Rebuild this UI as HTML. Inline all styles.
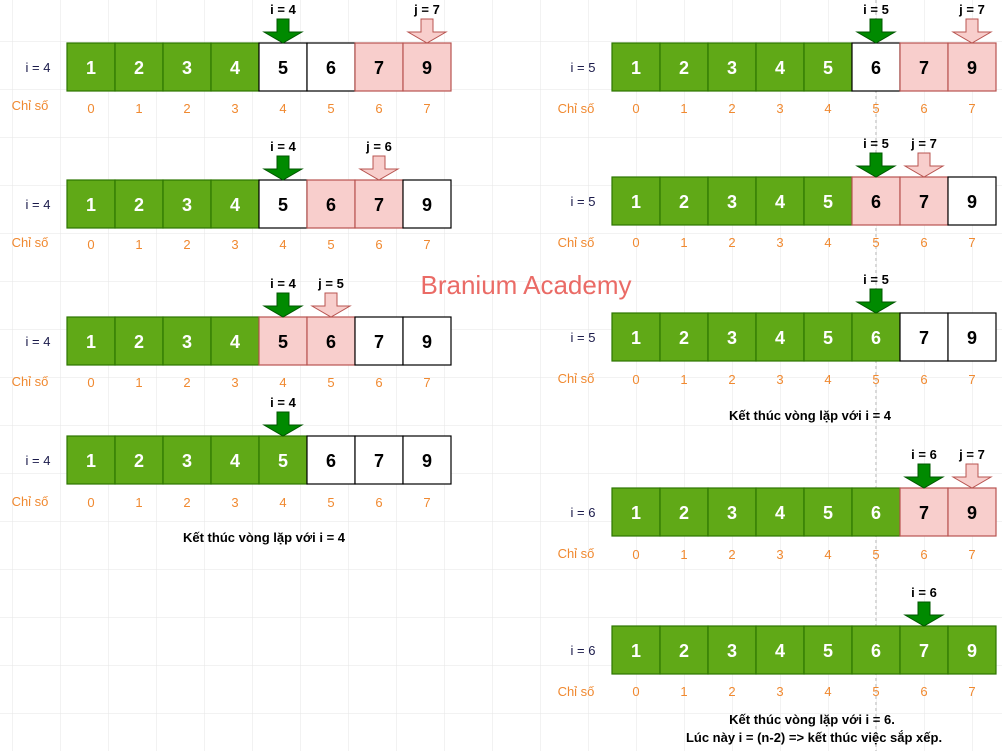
<!DOCTYPE html>
<html><head><meta charset="utf-8"><style>
body{margin:0;background:#fff}
svg{display:block;font-family:"Liberation Sans",Arial,sans-serif}
.c{font-weight:bold;font-size:18px;text-anchor:middle}
.w{fill:#fff}.k{fill:#000}
.ix{fill:#f08930;font-size:13px;text-anchor:middle}
.rl{fill:#1a1a4a;font-size:13px;text-anchor:middle}
.al{font-weight:bold;font-size:13px;text-anchor:middle;fill:#000}
.cap{font-weight:bold;font-size:13px;text-anchor:middle;fill:#000}
</style></head><body>
<svg width="1002" height="751" viewBox="0 0 1002 751" xmlns="http://www.w3.org/2000/svg">
<defs>
<pattern id="grid" x="12" y="41" width="48" height="48" patternUnits="userSpaceOnUse">
<path d="M0 0H48M0 0V48" fill="none" stroke="#e6e6e6" stroke-width="1"/>
</pattern>
<polygon id="ga" points="-6,-24 6,-24 6,-11 19,-11 0,0 -19,-11 -6,-11" fill="#008a00" stroke="#005700" stroke-width="1"/>
<polygon id="pa" points="-6,-24 6,-24 6,-11 19,-11 0,0 -19,-11 -6,-11" fill="#f8cecc" stroke="#b85450" stroke-width="1"/>
<g id="gc"><rect width="48" height="48" fill="#60a917" stroke="#2d7600" stroke-width="1.2"/></g>
<g id="wc"><rect width="48" height="48" fill="#fff" stroke="#000" stroke-width="1.2"/></g>
<g id="pc"><rect width="48" height="48" fill="#f8cecc" stroke="#b85450" stroke-width="1.2"/></g>
</defs>
<rect width="1002" height="751" fill="url(#grid)"/>
<line x1="876" y1="0" x2="876" y2="751" stroke="#b3b3b3" stroke-dasharray="3,3"/>

<!-- L1 -->
<g transform="translate(67,43)">
<use href="#gc" x="0"/><use href="#gc" x="48"/><use href="#gc" x="96"/><use href="#gc" x="144"/><use href="#wc" x="192"/><use href="#wc" x="240"/><use href="#pc" x="288"/><use href="#pc" x="336"/>
<text class="c w" x="24" y="31">1</text><text class="c w" x="72" y="31">2</text><text class="c w" x="120" y="31">3</text><text class="c w" x="168" y="31">4</text><text class="c k" x="216" y="31">5</text><text class="c k" x="264" y="31">6</text><text class="c k" x="312" y="31">7</text><text class="c k" x="360" y="31">9</text>
<use href="#ga" x="216" y="0"/><text class="al" x="216" y="-29">i = 4</text>
<use href="#pa" x="360" y="0"/><text class="al" x="360" y="-29">j = 7</text>
</g>
<text class="rl" x="38" y="72">i = 4</text>
<text class="ix" x="30" y="110" style="text-anchor:middle">Chỉ số</text>
<g class="ix"><text x="91" y="113">0</text><text x="139" y="113">1</text><text x="187" y="113">2</text><text x="235" y="113">3</text><text x="283" y="113">4</text><text x="331" y="113">5</text><text x="379" y="113">6</text><text x="427" y="113">7</text></g>

<!-- L2 -->
<g transform="translate(67,180)">
<use href="#gc" x="0"/><use href="#gc" x="48"/><use href="#gc" x="96"/><use href="#gc" x="144"/><use href="#wc" x="192"/><use href="#pc" x="240"/><use href="#pc" x="288"/><use href="#wc" x="336"/>
<text class="c w" x="24" y="31">1</text><text class="c w" x="72" y="31">2</text><text class="c w" x="120" y="31">3</text><text class="c w" x="168" y="31">4</text><text class="c k" x="216" y="31">5</text><text class="c k" x="264" y="31">6</text><text class="c k" x="312" y="31">7</text><text class="c k" x="360" y="31">9</text>
<use href="#ga" x="216" y="0"/><text class="al" x="216" y="-29">i = 4</text>
<use href="#pa" x="312" y="0"/><text class="al" x="312" y="-29">j = 6</text>
</g>
<text class="rl" x="38" y="209">i = 4</text>
<text class="ix" x="30" y="247">Chỉ số</text>
<g class="ix"><text x="91" y="249">0</text><text x="139" y="249">1</text><text x="187" y="249">2</text><text x="235" y="249">3</text><text x="283" y="249">4</text><text x="331" y="249">5</text><text x="379" y="249">6</text><text x="427" y="249">7</text></g>

<!-- L3 -->
<g transform="translate(67,317)">
<use href="#gc" x="0"/><use href="#gc" x="48"/><use href="#gc" x="96"/><use href="#gc" x="144"/><use href="#pc" x="192"/><use href="#pc" x="240"/><use href="#wc" x="288"/><use href="#wc" x="336"/>
<text class="c w" x="24" y="31">1</text><text class="c w" x="72" y="31">2</text><text class="c w" x="120" y="31">3</text><text class="c w" x="168" y="31">4</text><text class="c k" x="216" y="31">5</text><text class="c k" x="264" y="31">6</text><text class="c k" x="312" y="31">7</text><text class="c k" x="360" y="31">9</text>
<use href="#ga" x="216" y="0"/><text class="al" x="216" y="-29">i = 4</text>
<use href="#pa" x="264" y="0"/><text class="al" x="264" y="-29">j = 5</text>
</g>
<text class="rl" x="38" y="346">i = 4</text>
<text class="ix" x="30" y="386">Chỉ số</text>
<g class="ix"><text x="91" y="387">0</text><text x="139" y="387">1</text><text x="187" y="387">2</text><text x="235" y="387">3</text><text x="283" y="387">4</text><text x="331" y="387">5</text><text x="379" y="387">6</text><text x="427" y="387">7</text></g>

<!-- L4 -->
<g transform="translate(67,436)">
<use href="#gc" x="0"/><use href="#gc" x="48"/><use href="#gc" x="96"/><use href="#gc" x="144"/><use href="#gc" x="192"/><use href="#wc" x="240"/><use href="#wc" x="288"/><use href="#wc" x="336"/>
<text class="c w" x="24" y="31">1</text><text class="c w" x="72" y="31">2</text><text class="c w" x="120" y="31">3</text><text class="c w" x="168" y="31">4</text><text class="c w" x="216" y="31">5</text><text class="c k" x="264" y="31">6</text><text class="c k" x="312" y="31">7</text><text class="c k" x="360" y="31">9</text>
<use href="#ga" x="216" y="0"/><text class="al" x="216" y="-29">i = 4</text>
</g>
<text class="rl" x="38" y="465">i = 4</text>
<text class="ix" x="30" y="506">Chỉ số</text>
<g class="ix"><text x="91" y="507">0</text><text x="139" y="507">1</text><text x="187" y="507">2</text><text x="235" y="507">3</text><text x="283" y="507">4</text><text x="331" y="507">5</text><text x="379" y="507">6</text><text x="427" y="507">7</text></g>
<text class="cap" x="264" y="542">Kết thúc vòng lặp với i = 4</text>

<text x="526" y="294" fill="#ea6b66" font-size="26" text-anchor="middle">Branium Academy</text>

<!-- R1 -->
<g transform="translate(612,43)">
<use href="#gc" x="0"/><use href="#gc" x="48"/><use href="#gc" x="96"/><use href="#gc" x="144"/><use href="#gc" x="192"/><use href="#wc" x="240"/><use href="#pc" x="288"/><use href="#pc" x="336"/>
<text class="c w" x="24" y="31">1</text><text class="c w" x="72" y="31">2</text><text class="c w" x="120" y="31">3</text><text class="c w" x="168" y="31">4</text><text class="c w" x="216" y="31">5</text><text class="c k" x="264" y="31">6</text><text class="c k" x="312" y="31">7</text><text class="c k" x="360" y="31">9</text>
<use href="#ga" x="264" y="0"/><text class="al" x="264" y="-29">i = 5</text>
<use href="#pa" x="360" y="0"/><text class="al" x="360" y="-29">j = 7</text>
</g>
<text class="rl" x="583" y="72">i = 5</text>
<text class="ix" x="576" y="113">Chỉ số</text>
<g class="ix"><text x="636" y="113">0</text><text x="684" y="113">1</text><text x="732" y="113">2</text><text x="780" y="113">3</text><text x="828" y="113">4</text><text x="876" y="113">5</text><text x="924" y="113">6</text><text x="972" y="113">7</text></g>

<!-- R2 -->
<g transform="translate(612,177)">
<use href="#gc" x="0"/><use href="#gc" x="48"/><use href="#gc" x="96"/><use href="#gc" x="144"/><use href="#gc" x="192"/><use href="#pc" x="240"/><use href="#pc" x="288"/><use href="#wc" x="336"/>
<text class="c w" x="24" y="31">1</text><text class="c w" x="72" y="31">2</text><text class="c w" x="120" y="31">3</text><text class="c w" x="168" y="31">4</text><text class="c w" x="216" y="31">5</text><text class="c k" x="264" y="31">6</text><text class="c k" x="312" y="31">7</text><text class="c k" x="360" y="31">9</text>
<use href="#ga" x="264" y="0"/><text class="al" x="264" y="-29">i = 5</text>
<use href="#pa" x="312" y="0"/><text class="al" x="312" y="-29">j = 7</text>
</g>
<text class="rl" x="583" y="206">i = 5</text>
<text class="ix" x="576" y="247">Chỉ số</text>
<g class="ix"><text x="636" y="247">0</text><text x="684" y="247">1</text><text x="732" y="247">2</text><text x="780" y="247">3</text><text x="828" y="247">4</text><text x="876" y="247">5</text><text x="924" y="247">6</text><text x="972" y="247">7</text></g>

<!-- R3 -->
<g transform="translate(612,313)">
<use href="#gc" x="0"/><use href="#gc" x="48"/><use href="#gc" x="96"/><use href="#gc" x="144"/><use href="#gc" x="192"/><use href="#gc" x="240"/><use href="#wc" x="288"/><use href="#wc" x="336"/>
<text class="c w" x="24" y="31">1</text><text class="c w" x="72" y="31">2</text><text class="c w" x="120" y="31">3</text><text class="c w" x="168" y="31">4</text><text class="c w" x="216" y="31">5</text><text class="c w" x="264" y="31">6</text><text class="c k" x="312" y="31">7</text><text class="c k" x="360" y="31">9</text>
<use href="#ga" x="264" y="0"/><text class="al" x="264" y="-29">i = 5</text>
</g>
<text class="rl" x="583" y="342">i = 5</text>
<text class="ix" x="576" y="383">Chỉ số</text>
<g class="ix"><text x="636" y="384">0</text><text x="684" y="384">1</text><text x="732" y="384">2</text><text x="780" y="384">3</text><text x="828" y="384">4</text><text x="876" y="384">5</text><text x="924" y="384">6</text><text x="972" y="384">7</text></g>
<text class="cap" x="810" y="420">Kết thúc vòng lặp với i = 4</text>

<!-- R4 -->
<g transform="translate(612,488)">
<use href="#gc" x="0"/><use href="#gc" x="48"/><use href="#gc" x="96"/><use href="#gc" x="144"/><use href="#gc" x="192"/><use href="#gc" x="240"/><use href="#pc" x="288"/><use href="#pc" x="336"/>
<text class="c w" x="24" y="31">1</text><text class="c w" x="72" y="31">2</text><text class="c w" x="120" y="31">3</text><text class="c w" x="168" y="31">4</text><text class="c w" x="216" y="31">5</text><text class="c w" x="264" y="31">6</text><text class="c k" x="312" y="31">7</text><text class="c k" x="360" y="31">9</text>
<use href="#ga" x="312" y="0"/><text class="al" x="312" y="-29">i = 6</text>
<use href="#pa" x="360" y="0"/><text class="al" x="360" y="-29">j = 7</text>
</g>
<text class="rl" x="583" y="517">i = 6</text>
<text class="ix" x="576" y="558">Chỉ số</text>
<g class="ix"><text x="636" y="559">0</text><text x="684" y="559">1</text><text x="732" y="559">2</text><text x="780" y="559">3</text><text x="828" y="559">4</text><text x="876" y="559">5</text><text x="924" y="559">6</text><text x="972" y="559">7</text></g>

<!-- R5 -->
<g transform="translate(612,626)">
<use href="#gc" x="0"/><use href="#gc" x="48"/><use href="#gc" x="96"/><use href="#gc" x="144"/><use href="#gc" x="192"/><use href="#gc" x="240"/><use href="#gc" x="288"/><use href="#gc" x="336"/>
<text class="c w" x="24" y="31">1</text><text class="c w" x="72" y="31">2</text><text class="c w" x="120" y="31">3</text><text class="c w" x="168" y="31">4</text><text class="c w" x="216" y="31">5</text><text class="c w" x="264" y="31">6</text><text class="c w" x="312" y="31">7</text><text class="c w" x="360" y="31">9</text>
<use href="#ga" x="312" y="0"/><text class="al" x="312" y="-29">i = 6</text>
</g>
<text class="rl" x="583" y="655">i = 6</text>
<text class="ix" x="576" y="696">Chỉ số</text>
<g class="ix"><text x="636" y="696">0</text><text x="684" y="696">1</text><text x="732" y="696">2</text><text x="780" y="696">3</text><text x="828" y="696">4</text><text x="876" y="696">5</text><text x="924" y="696">6</text><text x="972" y="696">7</text></g>
<text class="cap" x="812" y="724">Kết thúc vòng lặp với i = 6.</text>
<text class="cap" x="814" y="742">Lúc này i = (n-2) =&gt; kết thúc việc sắp xếp.</text>
</svg>
</body></html>
